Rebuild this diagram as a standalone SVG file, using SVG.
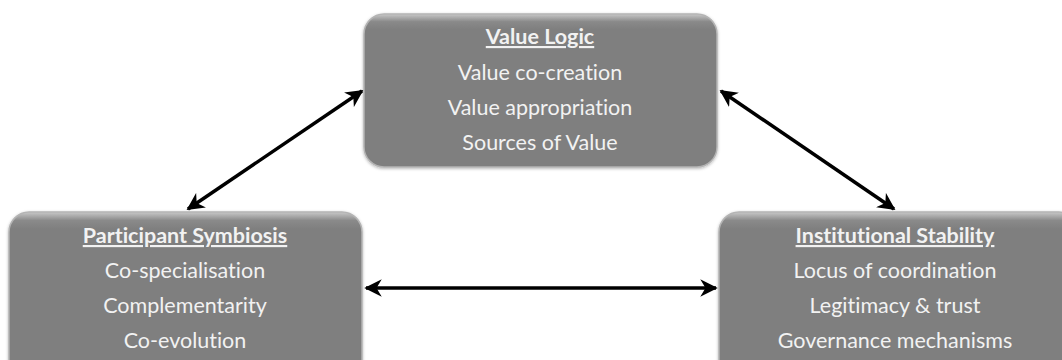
<svg xmlns="http://www.w3.org/2000/svg" width="1062" height="360" viewBox="0 0 1062 360">
  <defs>
    <linearGradient id="bevel" x1="0" y1="0" x2="0" y2="1">
      <stop offset="0" stop-color="#c8c8c8"/>
      <stop offset="0.05" stop-color="#8a8a8a"/>
      <stop offset="0.1" stop-color="#7f7f7f"/>
      <stop offset="1" stop-color="#7f7f7f"/>
    </linearGradient>
    <filter id="soft" x="-5%" y="-5%" width="110%" height="115%">
      <feGaussianBlur in="SourceAlpha" stdDeviation="1.5"/>
      <feOffset dx="0" dy="1" result="b"/>
      <feFlood flood-color="#000" flood-opacity="0.3"/>
      <feComposite in2="b" operator="in"/>
      <feMerge><feMergeNode/><feMergeNode in="SourceGraphic"/></feMerge>
    </filter>
    <marker id="head" viewBox="0 0 10 10" refX="9" refY="5" markerWidth="5" markerHeight="5" orient="auto-start-reverse" markerUnits="strokeWidth">
      <path d="M0,0 L10,5 L0,10 L3,5 Z" fill="#000"/>
    </marker>
  </defs>
  <style>
    .box { fill: url(#bevel); stroke: #b4b4b4; stroke-width: 1.5; filter: url(#soft); }
    .t { font-family: Lato, "Liberation Sans", sans-serif; font-size: 21.5px; fill: #f2f2f2; text-anchor: middle; font-variant-ligatures: none; }
    .h { font-weight: bold; text-decoration: underline; }
    .c { stroke: #000; stroke-width: 3.5; fill: none; marker-start: url(#head); marker-end: url(#head); }
  </style>

  <g id="connectors">
    <line class="c" x1="188" y1="209" x2="362" y2="91"/>
    <line class="c" x1="721" y1="91" x2="894" y2="209"/>
    <line class="c" x1="366" y1="288" x2="716" y2="288"/>
  </g>

  <g id="value-logic">
    <rect class="box" x="364" y="14" width="353" height="153" rx="20"/>
    <text class="t h" x="540" y="44">Value Logic</text>
    <text class="t" x="540" y="80">Value co-creation</text>
    <text class="t" x="540" y="115">Value appropriation</text>
    <text class="t" x="540" y="150">Sources of Value</text>
  </g>

  <g id="participant-symbiosis">
    <rect class="box" x="9" y="212" width="353" height="170" rx="20"/>
    <text class="t h" x="185" y="243">Participant Symbiosis</text>
    <text class="t" x="185" y="278">Co-specialisation</text>
    <text class="t" x="185" y="313">Complementarity</text>
    <text class="t" x="185" y="348">Co-evolution</text>
  </g>

  <g id="institutional-stability">
    <rect class="box" x="719" y="212" width="360" height="170" rx="20"/>
    <text class="t h" x="895" y="243">Institutional Stability</text>
    <text class="t" x="895" y="278">Locus of coordination</text>
    <text class="t" x="895" y="313">Legitimacy &amp; trust</text>
    <text class="t" x="895" y="348">Governance mechanisms</text>
  </g>
</svg>
